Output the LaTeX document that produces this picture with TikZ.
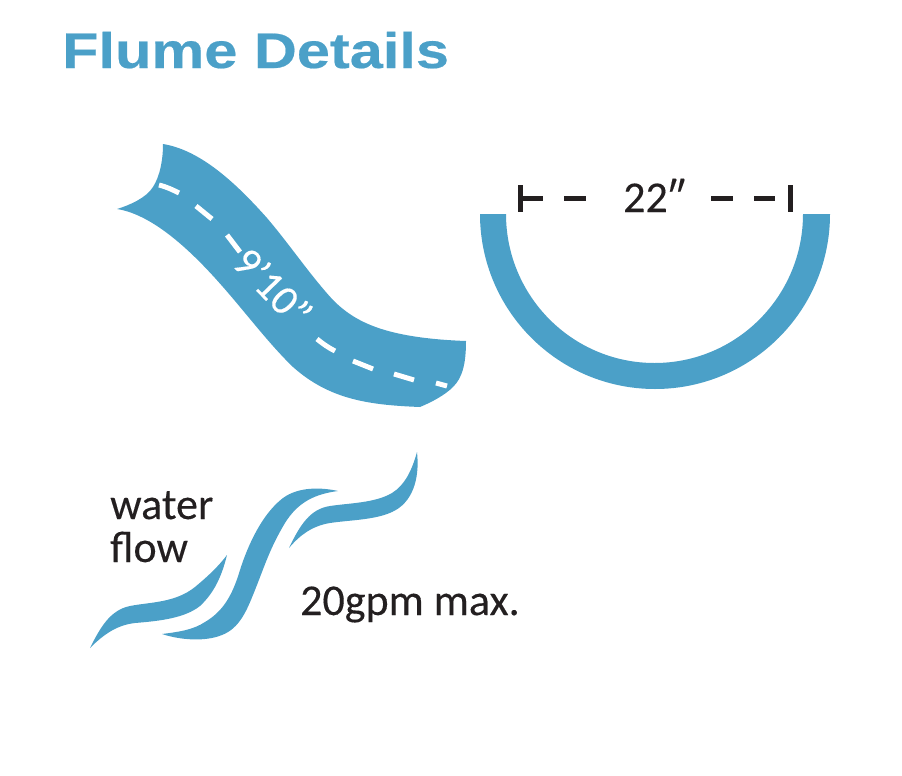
\documentclass[tikz,border=0pt]{standalone}
\usepackage{fontspec}
\setmainfont{Carlito}
\newfontfamily\bodyfont[FakeBold=0.2]{Carlito}
\newfontfamily\titlefont[FakeStretch=1.19,FakeBold=0.4]{Liberation Sans Bold}
\definecolor{flume}{HTML}{4BA0C8}
\definecolor{ink}{HTML}{231F20}
\tikzset{
  bluefill/.style={fill=flume,draw=none},
  whitedash/.style={draw=white,line width=5pt},
  blackdash/.style={draw=ink,line width=5pt},
  bodytext/.style={anchor=base west,inner sep=0pt,text=ink,font=\bodyfont\fontsize{44}{44}\selectfont},
}
\begin{document}
\begin{tikzpicture}[x=1pt,y=-1pt]
\useasboundingbox (0,0) rectangle (902,776);
\node[anchor=base west,inner sep=0pt,text=flume,font=\titlefont\fontsize{50}{50}\selectfont] (title) at (62,68) {Flume Details};
% flume side view
\fill[bluefill] (163,144) .. controls (200,150) and (235,182) .. (267,218)
  .. controls (290,245) and (310,275) .. (333,300)
  .. controls (355,322) and (385,338) .. (466,341)
  .. controls (466,365) and (462,378) .. (453,387)
  .. controls (445,395) and (432,402) .. (420,407)
  .. controls (370,405) and (330,400) .. (293,367)
  .. controls (270,345) and (245,312) .. (223,287)
  .. controls (195,255) and (155,215) .. (117,209)
  .. controls (130,205) and (146,198) .. (153,187)
  .. controls (160,176) and (163,160) .. (163,144) -- cycle;
\draw[whitedash] (159,185) .. controls (167,187) and (173,190) .. (179,193);
\draw[whitedash] (196,206) -- (212,219);
\draw[whitedash] (227,235) -- (240,252);
\draw[whitedash] (317,339) .. controls (323,344) and (329,348) .. (335,351);
\draw[whitedash] (353,361) -- (373,369);
\draw[whitedash] (394,374) -- (414,380);
\draw[whitedash] (436,383) -- (447,386);
\node[inner sep=0pt,text=white,rotate=-46,font=\bodyfont\fontsize{42}{42}\selectfont] (length) at (273,287) {9’10”};
% cross-section
\fill[bluefill] (480,214) arc[start angle=180,delta angle=-180,radius=175] -- (803,214) arc[start angle=0,delta angle=180,x radius=148.5,y radius=149] -- cycle;
\draw[blackdash] (520,185) -- (520,212);
\draw[blackdash] (520,198.5) -- (543,198.5);
\draw[blackdash] (564,198.5) -- (586,198.5);
\draw[blackdash] (711,198.5) -- (733,198.5);
\draw[blackdash] (754,198.5) -- (775,198.5);
\draw[blackdash] (790,185) -- (790,212);
\node[bodytext] (width) at (623,212) {22″};
% water
\fill[bluefill] (90,648) .. controls (100,628) and (110,610) .. (130,606) .. controls (150,602) and (175,603) .. (195,587) .. controls (207,577) and (218,567) .. (227,555) .. controls (222,575) and (215,592) .. (200,606) .. controls (185,618) and (160,621) .. (135,623) .. controls (118,625) and (105,633) .. (90,648) -- cycle;
\fill[bluefill] (338,491) .. controls (320,487) and (298,487) .. (283,498) .. controls (262,514) and (248,545) .. (240,570) .. controls (232,597) and (222,612) .. (205,622) .. controls (193,630) and (178,632) .. (162,634) .. controls (180,640) and (205,642) .. (222,635) .. controls (240,628) and (247,610) .. (255,590) .. controls (265,565) and (270,548) .. (285,523) .. controls (298,502) and (315,494) .. (338,491) -- cycle;
\fill[bluefill] (417,452) .. controls (412,470) and (405,485) .. (392,493) .. controls (375,503) and (350,503) .. (330,506) .. controls (310,509) and (300,525) .. (289,548) .. controls (300,535) and (312,526) .. (330,523) .. controls (350,520) and (375,520) .. (392,512) .. controls (412,503) and (420,480) .. (417,452) -- cycle;
\node[bodytext] (water) at (110,519) {water};
\node[bodytext] (flow) at (110,562) {flow};
\node[bodytext] (rate) at (300,615) {20gpm max.};
\end{tikzpicture}
\end{document}
